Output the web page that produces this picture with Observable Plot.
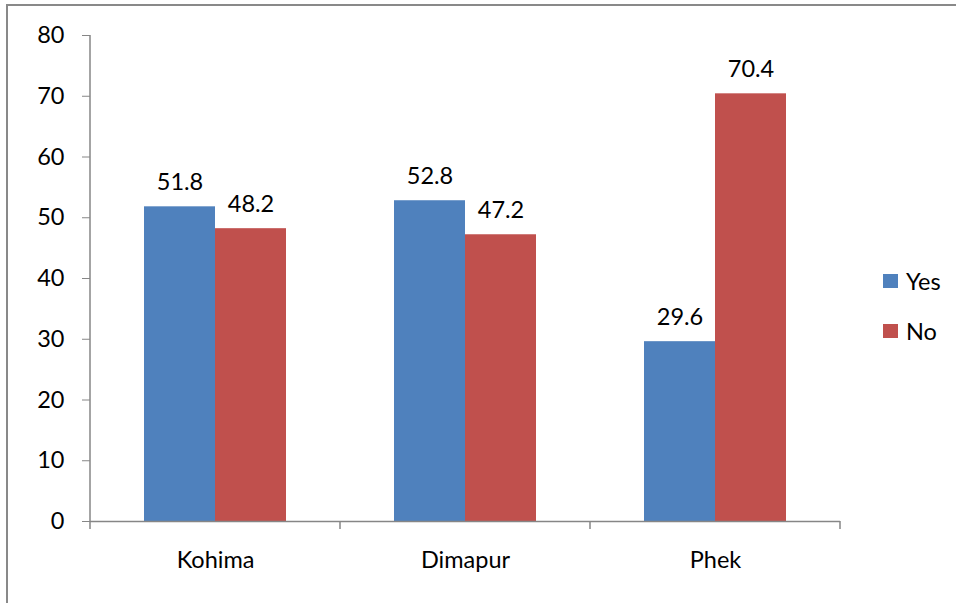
<!DOCTYPE html>
<html>
<head>
<meta charset="utf-8">
<script src="https://cdn.jsdelivr.net/npm/d3@7"></script>
<script src="https://cdn.jsdelivr.net/npm/@observablehq/plot@0.6"></script>
<style>
  html, body { margin: 0; padding: 0; background: #fff; }
  #wrap { position: relative; width: 956px; height: 603px; overflow: hidden; font-family: Lato, "Open Sans", sans-serif; background: #fff; }
  #frame { position: absolute; left: 6px; top: 4px; width: 2000px; height: 2000px; border-top: 2px solid #898989; border-left: 2px solid #898989; box-sizing: border-box; pointer-events: none; }
  #chart { position: absolute; left: 0; top: 0; }
  .legend { position: absolute; left: 883px; top: 0; font-size: 23.5px; color: #000; }
  .legend div { position: absolute; display: flex; align-items: center; white-space: nowrap; }
  .legend span.sw { display: inline-block; width: 15px; height: 14px; margin-right: 8px; }
</style>
</head>
<body>
<div id="wrap">
  <div id="chart"></div>
  <div class="legend" id="legend"></div>
  <div id="frame"></div>
</div>
<script>
const districts = ["Kohima", "Dimapur", "Phek"];
const answers = ["Yes", "No"];
const yesValues = [51.8, 52.8, 29.6];
const noValues = [48.2, 47.2, 70.4];
const colors = ["#4F81BD", "#C0504D"];
const yTicks = [0, 10, 20, 30, 40, 50, 60, 70, 80];

const data = [];
districts.forEach((d, i) => {
  data.push({district: d, answer: "Yes", value: yesValues[i]});
  data.push({district: d, answer: "No", value: noValues[i]});
});

const axisGray = "#868686";
const font = "Lato, 'Open Sans', sans-serif";
const fs = 23.5;

const plot = Plot.plot({
  width: 956,
  height: 603,
  marginLeft: 90,
  marginRight: 116,
  marginTop: 35,
  marginBottom: 82,
  style: {fontFamily: font, fontSize: fs + "px", background: "transparent", color: "#000"},
  fx: {domain: districts, padding: 0, label: null},
  x: {domain: answers, paddingInner: 0, paddingOuter: 0.75, axis: null},
  y: {domain: [0, 80], label: null},
  color: {domain: answers, range: colors},
  marks: [
    Plot.axisY({ticks: yTicks, tickSize: 8, tickPadding: 18, stroke: axisGray, fill: "#000", label: null, fontSize: fs}),
    Plot.axisFx({anchor: "bottom", tickSize: 0, tickPadding: 30, label: null, fill: "#000", fontSize: fs}),
    Plot.barY(data, {fx: "district", x: "answer", y: "value", fill: "answer"}),
    Plot.ruleY([0], {stroke: axisGray, strokeWidth: 1.5}),
    Plot.text(data, {fx: "district", x: "answer", y: "value", text: d => d.value.toFixed(1), dy: -24, fontSize: fs, fill: "#000", lineAnchor: "middle"})
  ]
});

document.getElementById("chart").appendChild(plot);

// Y axis line and category boundary ticks, from the plot's own scales
const fx = plot.scale("fx");
const y = plot.scale("y");
const svg = d3.select(plot);
const y0 = y.apply(0), yTop = y.apply(80);
const bw = fx.bandwidth;
const starts = districts.map(d => fx.apply(d));
const left = Math.min(...starts);
const bounds = starts.concat([Math.max(...starts) + bw]);
const g = svg.append("g").attr("stroke", axisGray).attr("stroke-width", 1.5);
g.append("line").attr("x1", left).attr("x2", left).attr("y1", yTop).attr("y2", y0);
bounds.forEach(b => {
  g.append("line").attr("x1", b).attr("x2", b).attr("y1", y0).attr("y2", y0 + 8);
});

// Legend
const legend = document.getElementById("legend");
const legendTops = [281, 331];
answers.forEach((a, i) => {
  const row = document.createElement("div");
  row.style.top = (legendTops[i] - 14) + "px";
  row.style.height = "28px";
  row.innerHTML = `<span class="sw" style="background:${colors[i]}"></span><span>${a}</span>`;
  legend.appendChild(row);
});
</script>
</body>
</html>
